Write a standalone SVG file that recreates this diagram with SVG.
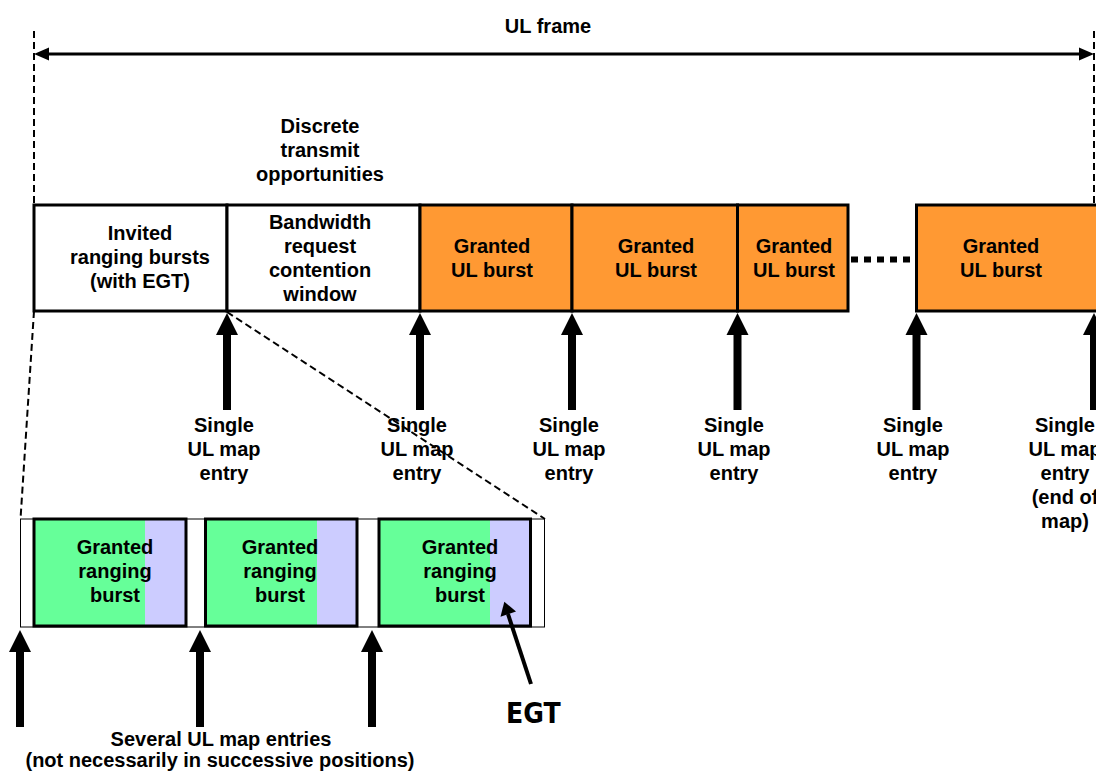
<svg xmlns="http://www.w3.org/2000/svg" width="1096" height="772" viewBox="0 0 1096 772">
<style>
text{font-family:"Liberation Sans",Arial,sans-serif;font-weight:bold;font-size:20px;fill:#000;text-anchor:middle}
.box{stroke:#000;stroke-width:3}
.white{fill:#fff}
.orange{fill:#FF9933}
.green{fill:#66FF99}
.lav{fill:#CCCCFF}
.dash{fill:none;stroke:#000;stroke-width:2;stroke-dasharray:7 4}
.egt{font-family:"DejaVu Sans Condensed","DejaVu Sans",sans-serif;font-weight:bold;font-size:28px;text-anchor:start}
</style>
<defs>
<g id="upArrow">
<rect x="-4" y="18" width="8" height="79" fill="#000"/>
<path d="M0,0 L11,22 L-11,22 Z" fill="#000"/>
</g>
</defs>
<rect width="1096" height="772" fill="#fff"/>

<g id="title">
<text x="548" y="33">UL frame</text>
</g>
<g id="discrete-label">
<text x="320" y="133">Discrete</text>
<text x="320" y="157">transmit</text>
<text x="320" y="181">opportunities</text>
</g>

<g id="invited">
<rect class="box white" x="34" y="205" width="193" height="106"/>
<text x="140" y="240">Invited</text>
<text x="140" y="264">ranging bursts</text>
<text x="140" y="288">(with EGT)</text>
</g>
<g id="bandwidth">
<rect class="box white" x="227" y="205" width="193" height="106"/>
<text x="320" y="229">Bandwidth</text>
<text x="320" y="253">request</text>
<text x="320" y="277">contention</text>
<text x="320" y="301">window</text>
</g>
<g id="granted1">
<rect class="box orange" x="420" y="205" width="152" height="106"/>
<text x="492" y="253">Granted</text>
<text x="492" y="277">UL burst</text>
</g>
<g id="granted2">
<rect class="box orange" x="572" y="205" width="165.5" height="106"/>
<text x="656" y="253">Granted</text>
<text x="656" y="277">UL burst</text>
</g>
<g id="granted3">
<rect class="box orange" x="737.5" y="205" width="110.5" height="106"/>
<text x="794" y="253">Granted</text>
<text x="794" y="277">UL burst</text>
</g>
<g id="granted4">
<rect class="box orange" x="916.5" y="205" width="190" height="106"/>
<text x="1001" y="253">Granted</text>
<text x="1001" y="277">UL burst</text>
</g>

<g id="entry-labels">
<text x="224" y="432">Single</text><text x="224" y="456">UL map</text><text x="224" y="480">entry</text>
<text x="417" y="432">Single</text><text x="417" y="456">UL map</text><text x="417" y="480">entry</text>
<text x="569" y="432">Single</text><text x="569" y="456">UL map</text><text x="569" y="480">entry</text>
<text x="734" y="432">Single</text><text x="734" y="456">UL map</text><text x="734" y="480">entry</text>
<text x="913" y="432">Single</text><text x="913" y="456">UL map</text><text x="913" y="480">entry</text>
<text x="1065" y="432">Single</text><text x="1065" y="456">UL map</text><text x="1065" y="480">entry</text><text x="1065" y="504">(end of</text><text x="1065" y="528">map)</text>
</g>

<g id="ranging-frame">
<rect x="20.5" y="519" width="524" height="108" fill="#fff" stroke="#000" stroke-width="1"/>
</g>
<g id="ranging1">
<rect class="green" x="34" y="519" width="152" height="107"/>
<rect class="lav" x="145" y="519" width="41" height="107"/>
<rect class="box" fill="none" x="34" y="519" width="152" height="107"/>
<text x="115" y="554">Granted</text>
<text x="115" y="578">ranging</text>
<text x="115" y="602">burst</text>
</g>
<g id="ranging2">
<rect class="green" x="205.5" y="519" width="151.5" height="107"/>
<rect class="lav" x="317" y="519" width="40" height="107"/>
<rect class="box" fill="none" x="205.5" y="519" width="151.5" height="107"/>
<text x="280" y="554">Granted</text>
<text x="280" y="578">ranging</text>
<text x="280" y="602">burst</text>
</g>
<g id="ranging3">
<rect class="green" x="379" y="519" width="151.5" height="107"/>
<rect class="lav" x="490" y="519" width="40.5" height="107"/>
<rect class="box" fill="none" x="379" y="519" width="151.5" height="107"/>
<text x="460" y="554">Granted</text>
<text x="460" y="578">ranging</text>
<text x="460" y="602">burst</text>
</g>

<g id="egt-label">
<text class="egt" x="506" y="723">EGT</text>
</g>
<g id="bottom-label">
<text x="221" y="746">Several UL map entries</text>
<text x="220" y="767">(not necessarily in successive positions)</text>
</g>

<g id="connectors">
<line class="dash" x1="34" y1="31" x2="34" y2="311"/>
<line class="dash" x1="34" y1="311" x2="20.5" y2="519"/>
<line class="dash" x1="1094" y1="31" x2="1094" y2="205"/>
<line class="dash" x1="227" y1="312" x2="545" y2="519"/>
<line x1="46" y1="54" x2="1082" y2="54" stroke="#000" stroke-width="3"/>
<path d="M34,54 L49,47.5 L49,60.5 Z" fill="#000"/>
<path d="M1094,54 L1079,47.5 L1079,60.5 Z" fill="#000"/>
<line x1="851" y1="259.5" x2="913" y2="259.5" stroke="#000" stroke-width="6" stroke-dasharray="7 6"/>
<use href="#upArrow" x="227" y="313"/>
<use href="#upArrow" x="420" y="313"/>
<use href="#upArrow" x="572" y="313"/>
<use href="#upArrow" x="737.5" y="313"/>
<use href="#upArrow" x="916.5" y="313"/>
<use href="#upArrow" x="1094" y="313"/>
<use href="#upArrow" x="20" y="630"/>
<use href="#upArrow" x="200" y="630"/>
<use href="#upArrow" x="372" y="630"/>
<line x1="508" y1="614" x2="531" y2="684" stroke="#000" stroke-width="4"/>
<path d="M504.3,601.7 L516,611.5 L500.5,616.8 Z" fill="#000"/>
</g>
</svg>
